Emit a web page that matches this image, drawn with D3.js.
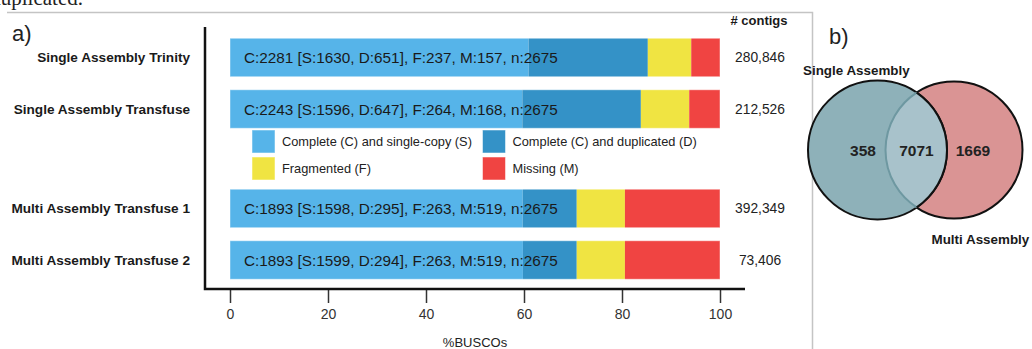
<!DOCTYPE html>
<html>
<head>
<meta charset="utf-8">
<script src="https://cdn.jsdelivr.net/npm/d3@7"></script>
<style>
  body { margin: 0; background: #fff; }
  svg { display: block; font-family: "Liberation Sans", Arial, sans-serif; }
</style>
</head>
<body>
<div id="chart"></div>
<script>
// BUSCO data
var assemblies = ["Single Assembly Trinity", "Single Assembly Transfuse",
                  "Multi Assembly Transfuse 1", "Multi Assembly Transfuse 2"];
var single = [1630, 1596, 1598, 1599];
var duplicated = [651, 647, 295, 294];
var fragmented = [237, 264, 263, 263];
var missing = [157, 168, 519, 519];
var nTotal = 2675;
var contigs = ["280,846", "212,526", "392,349", "73,406"];
var xTicks = [0, 20, 40, 60, 80, 100];

var categories = ["Complete (C) and single-copy (S)", "Complete (C) and duplicated (D)",
                  "Fragmented (F)", "Missing (M)"];
var colors = ["#56B4E9", "#3492C7", "#F0E442", "#F04442"];

// venn data
var vennLabels = ["Single Assembly", "Multi Assembly"];
var vennCounts = [358, 7071, 1669];

var width = 1032, height = 349;

var svg = d3.select("#chart").append("svg")
  .attr("width", width)
  .attr("height", height);

// cut-off caption text from the page above
svg.append("text")
  .attr("x", 83).attr("y", 5)
  .attr("text-anchor", "end")
  .style("font-family", "'Liberation Serif', 'Times New Roman', serif")
  .style("font-size", "21px")
  .attr("fill", "#222")
  .text("duplicated.");

// frame of panel a
svg.append("path")
  .attr("d", "M7,12.5H812.5V349")
  .attr("fill", "none")
  .attr("stroke", "#c4c4c4")
  .attr("stroke-width", 1.5);

svg.append("text").attr("x", 12).attr("y", 41)
  .style("font-size", "22px").attr("fill", "#222").text("a)");
svg.append("text").attr("x", 829).attr("y", 44)
  .style("font-size", "22px").attr("fill", "#222").text("b)");

/* BAR CHART */
var x = d3.scaleLinear().domain([0, 100]).range([230, 720]);
// row slots leave a gap for the legend between the two groups
var rowSlot = [0, 1, 2.93, 3.93];
var y = d3.scaleLinear().domain([0, 3.93]).range([57.5, 260]);
var barH = 38.5;

var rows = assemblies.map(function(name, i) {
  var parts = [single[i], duplicated[i], fragmented[i], missing[i]];
  var acc = 0;
  return {
    name: name, i: i,
    segs: parts.map(function(v, k) {
      var s = { x0: acc / nTotal * 100, x1: (acc + v) / nTotal * 100, color: colors[k] };
      acc += v;
      return s;
    }),
    label: "C:" + (single[i] + duplicated[i]) + " [S:" + single[i] + ", D:" + duplicated[i] +
           "], F:" + fragmented[i] + ", M:" + missing[i] + ", n:" + nTotal
  };
});

var row = svg.append("g").selectAll("g.row").data(rows).enter()
  .append("g").attr("class", "row")
  .attr("transform", function(d) { return "translate(0," + y(rowSlot[d.i]) + ")"; });

row.selectAll("rect").data(function(d) { return d.segs; }).enter()
  .append("rect")
  .attr("x", function(d) { return x(d.x0); })
  .attr("width", function(d) { return x(d.x1) - x(d.x0); })
  .attr("y", -barH / 2)
  .attr("height", barH)
  .attr("fill", function(d) { return d.color; });

row.append("rect")
  .attr("x", x(0)).attr("width", x(100) - x(0))
  .attr("y", -barH / 2).attr("height", barH)
  .attr("fill", "none")
  .attr("stroke", "#fff").attr("stroke-opacity", 0.45).attr("stroke-width", 1);

row.append("text")
  .attr("x", x(0) + 14).attr("dy", "0.36em")
  .style("font-size", "15.3px").attr("fill", "#1a1a1a")
  .text(function(d) { return d.label; });

row.append("text")
  .attr("x", 190).attr("dy", "0.36em")
  .attr("text-anchor", "end")
  .style("font-size", "13.6px").style("font-weight", "bold").attr("fill", "#1a1a1a")
  .text(function(d) { return d.name; });

row.append("text")
  .attr("x", 760).attr("dy", "0.36em")
  .attr("text-anchor", "middle")
  .style("font-size", "13.8px").attr("fill", "#222")
  .text(function(d) { return contigs[d.i]; });

svg.append("text")
  .attr("x", 759).attr("y", 24.5)
  .attr("text-anchor", "middle")
  .style("font-size", "13px").style("font-weight", "bold").attr("fill", "#1a1a1a")
  .text("# contigs");

// legend
var legend = svg.append("g").selectAll("g.leg").data(categories).enter()
  .append("g").attr("class", "leg")
  .attr("transform", function(d, k) {
    return "translate(" + (k % 2 === 0 ? 252 : 482.5) + "," + (k < 2 ? 130 : 157) + ")";
  });
legend.append("rect")
  .attr("width", 23).attr("height", 23)
  .attr("fill", function(d, k) { return colors[k]; })
  .attr("stroke", "#fff").attr("stroke-opacity", 0.5);
legend.append("text")
  .attr("x", 30).attr("y", 11.8).attr("dy", "0.36em")
  .style("font-size", "12.8px").attr("fill", "#222")
  .text(function(d) { return d; });

// axes
var xAxis = svg.append("g")
  .attr("transform", "translate(0,289)")
  .call(d3.axisBottom(x).tickValues(xTicks).tickSize(14).tickPadding(6).tickSizeOuter(0));
xAxis.select(".domain").remove();
xAxis.selectAll(".tick line").attr("stroke", "#333").attr("stroke-width", 1.5);
xAxis.selectAll(".tick text")
  .style("font-size", "14px").attr("fill", "#333")
  .style("font-family", "'Liberation Sans', Arial, sans-serif");

svg.append("path")
  .attr("d", "M205,27V289H745")
  .attr("fill", "none")
  .attr("stroke", "#111")
  .attr("stroke-width", 2.5);

svg.append("text")
  .attr("x", 475).attr("y", 347)
  .attr("text-anchor", "middle")
  .style("font-size", "13px").attr("fill", "#222")
  .text("%BUSCOs");

/* VENN DIAGRAM */
var c1 = { x: 877.5, y: 150, r: 69.5 };
var c2 = { x: 954, y: 150, r: 68.5 };
var dist = c2.x - c1.x;
var a = (c1.r * c1.r - c2.r * c2.r + dist * dist) / (2 * dist);
var h = Math.sqrt(c1.r * c1.r - a * a);
var ix = c1.x + a;

var venn = svg.append("g");
venn.append("circle")
  .attr("cx", c2.x).attr("cy", c2.y).attr("r", c2.r)
  .attr("fill", "#DA9494").attr("stroke", "#111").attr("stroke-width", 2);
venn.append("circle")
  .attr("cx", c1.x).attr("cy", c1.y).attr("r", c1.r)
  .attr("fill", "#8EB1B9").attr("stroke", "#111").attr("stroke-width", 2);

var lens = d3.path();
lens.moveTo(ix, c1.y - h);
lens.arc(c2.x, c2.y, c2.r, Math.atan2(-h, ix - c2.x), Math.atan2(h, ix - c2.x), true);
lens.arc(c1.x, c1.y, c1.r, Math.atan2(h, ix - c1.x), Math.atan2(-h, ix - c1.x), true);
lens.closePath();
venn.append("path").attr("d", lens.toString()).attr("fill", "#A8C2CB");

// inner arc of multi assembly circle, seen through the single assembly circle
var inner = d3.path();
inner.arc(c2.x, c2.y, c2.r, Math.atan2(-h, ix - c2.x), Math.atan2(h, ix - c2.x), true);
venn.append("path").attr("d", inner.toString())
  .attr("fill", "none").attr("stroke", "#6E98A1").attr("stroke-width", 2);
var outerArc = d3.path();
outerArc.arc(c1.x, c1.y, c1.r, Math.atan2(h, ix - c1.x), Math.atan2(-h, ix - c1.x), true);
venn.append("path").attr("d", outerArc.toString())
  .attr("fill", "none").attr("stroke", "#111").attr("stroke-width", 2);

var vennX = [863, 916.5, 973];
venn.selectAll("text.cnt").data(vennCounts).enter()
  .append("text").attr("class", "cnt")
  .attr("x", function(d, k) { return vennX[k]; })
  .attr("y", 150).attr("dy", "0.36em")
  .attr("text-anchor", "middle")
  .style("font-size", "15.5px").style("font-weight", "bold").attr("fill", "#222")
  .text(function(d) { return d; });

svg.append("text")
  .attr("x", 803).attr("y", 74.5)
  .style("font-size", "13.4px").style("font-weight", "bold").attr("fill", "#1a1a1a")
  .text(vennLabels[0]);
svg.append("text")
  .attr("x", 931.5).attr("y", 244)
  .style("font-size", "13.4px").style("font-weight", "bold").attr("fill", "#1a1a1a")
  .text(vennLabels[1]);
</script>
</body>
</html>
